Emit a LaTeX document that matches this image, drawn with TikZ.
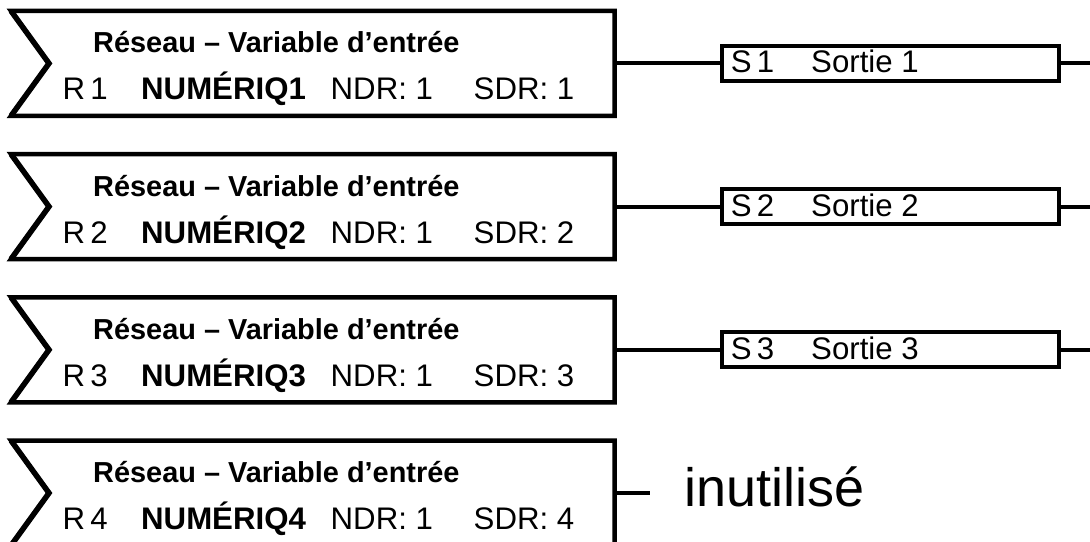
\documentclass[tikz,border=0pt]{standalone}
\usepackage{fontspec}
\setmainfont{Liberation Sans}
\usetikzlibrary{positioning,calc}
\tikzset{reseau/.style={minimum width=603.5pt,minimum height=105pt,inner sep=0pt,outer sep=0pt}}
\tikzset{cadre/.style={draw,line width=4.5pt,line join=miter}}
\tikzset{chevron/.style={draw,line width=5.5pt,line join=miter}}
\tikzset{titre/.style={anchor=base west,inner sep=0pt,font=\fontsize{28.9}{32}\selectfont\bfseries}}
\tikzset{champ/.style={anchor=base west,inner sep=0pt,font=\fontsize{31.2}{34}\selectfont}}
\tikzset{sortie/.style={draw,line width=4pt,minimum width=336.5pt,minimum height=35pt,inner sep=0pt,outer sep=0pt}}
\tikzset{fil/.style={line width=4pt}}

\begin{document}
\begin{tikzpicture}[x=1pt,y=-1pt]
        \clip (0,0) rectangle (1090,541);
        \foreach \i in {1,...,4}
        {
            \pgfmathsetmacro{\c}{63.4+143.2*(\i-1)}
            \node[reseau] (r\i) at (312.75,\c) {};
            
            % contour with the notch on the left
            \coordinate (k\i) at ($(r\i.west)+(38,0)$);
            \draw[cadre] (k\i) -- (r\i.north west) -- (r\i.north east)
                -- (r\i.south east) -- (r\i.south west) -- cycle;
            \draw[chevron] (r\i.north west) -- (k\i) -- (r\i.south west);
            
            % texts of the box
            \node[titre] (t\i) at ($(r\i.north west)+(82,42)$)
            {Réseau – Variable d’entrée};
            \node[champ] (a\i) at ($(r\i.north west)+(51.5,89)$) {R\,\i};
            \node[champ,font=\fontsize{31.2}{34}\selectfont\bfseries] (b\i)
                at ($(r\i.north west)+(130,89)$) {NUMÉRIQ\i};
            \node[champ] (c\i) at ($(r\i.north west)+(319.5,89)$) {NDR: 1};
            \node[champ] (d\i) at ($(r\i.north west)+(462.5,89)$) {SDR: \i};
            
            \ifnum\i<4
                % output
                \node[sortie,right=107.5pt of r\i] (s\i) {};
                \node[champ] (e\i) at ($(s\i.west)+(8.6,9.5)$) {S\,\i};
                \node[champ] (f\i) at ($(s\i.west)+(89,9.5)$) {Sortie \i};
                \coordinate (o\i) at (1095,\c);
                \draw[fil] (r\i.east) -- (s\i.west);
                \draw[fil] (s\i.east) -- (o\i);
            \else
                \node[anchor=base west,inner sep=0pt,font=\fontsize{54}{60}\selectfont]
                    (u\i) at ($(r\i.east)+(70,13)$) {inutilisé};
                \draw[fil,shorten >=34.5pt] (r\i.east) -- (r\i.east -| u\i.west);
            \fi
        }
\end{tikzpicture}
\end{document}
